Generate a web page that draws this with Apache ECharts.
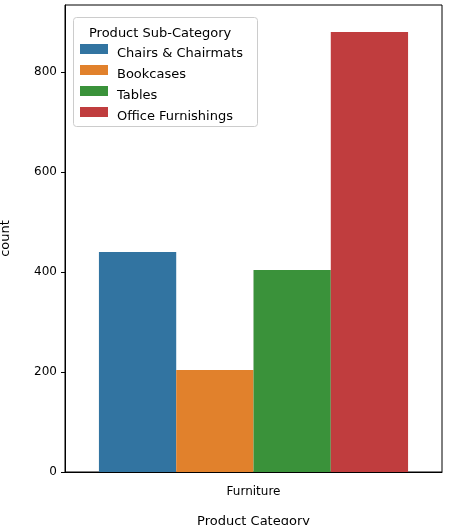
<html>
<head>
<script src="https://cdn.jsdelivr.net/npm/echarts@6/dist/echarts.min.js"></script>
<style>
  html, body { margin: 0; padding: 0; background: #fff; }
  #main { width: 463px; height: 525px; }
</style>
</head>
<body>
<div id="main"></div>
<script>
var categories = ['Furniture'];
var subCategories = ['Chairs & Chairmats', 'Bookcases', 'Tables', 'Office Furnishings'];
var counts = [440, 204, 404, 880];
var colors = ['#3274a1', '#e1812c', '#3a923a', '#c03d3e'];
var yTicks = [0, 200, 400, 600, 800];

var chart = echarts.init(document.getElementById('main'));
var font = 'DejaVu Sans';

var series = subCategories.map(function (name, i) {
    return {
        name: name,
        type: 'bar',
        data: [counts[i]],
        barGap: '0%',
        barCategoryGap: '18%',
        itemStyle: { color: colors[i] }
    };
});

// legend drawn by hand so spacing matches
var graphics = [
    { type: 'rect', left: 73, top: 17, z: 10,
      shape: { width: 184, height: 109, r: 3 },
      style: { fill: 'rgba(255,255,255,0.8)', stroke: '#ccc', lineWidth: 1 } },
    { type: 'text', left: 89, top: 21, z: 11,
      style: { text: 'Product Sub-Category', fill: '#000', fontSize: 13, fontFamily: font } }
];
subCategories.forEach(function (name, i) {
    graphics.push({ type: 'rect', left: 80, top: 44 + i * 21, z: 11,
        shape: { width: 28, height: 10 }, style: { fill: colors[i] } });
    graphics.push({ type: 'text', left: 117, top: 41 + i * 21, z: 11,
        style: { text: name, fill: '#000', fontSize: 13, fontFamily: font } });
});

chart.setOption({
    animation: false,
    textStyle: { fontFamily: font },
    grid: { left: 65, right: 21, top: 5, bottom: 53, outerBoundsMode: 'none',
            show: true, borderColor: '#000', borderWidth: 1 },
    xAxis: {
        type: 'category',
        data: categories,
        name: 'Product Category',
        nameLocation: 'middle',
        nameGap: 30,
        nameTextStyle: { color: '#000', fontSize: 13, fontFamily: font },
        axisLine: { lineStyle: { color: '#000' } },
        axisTick: { alignWithLabel: true, lineStyle: { color: '#000' }, length: 4 },
        axisLabel: { color: '#000', fontSize: 12, fontFamily: font, margin: 8 }
    },
    yAxis: {
        type: 'value',
        min: 0,
        max: 934,
        interval: 200,
        name: 'count',
        nameLocation: 'middle',
        nameGap: 46,
        nameTextStyle: { color: '#000', fontSize: 13, fontFamily: font },
        axisLine: { show: true, lineStyle: { color: '#000' } },
        axisTick: { show: true, lineStyle: { color: '#000' }, length: 4 },
        splitLine: { show: false },
        axisLabel: {
            color: '#000', fontSize: 12, fontFamily: font, showMaxLabel: false,
            formatter: function (v) { return yTicks.indexOf(v) >= 0 ? v : ''; }
        }
    },
    graphic: graphics,
    series: series
});
</script>
</body>
</html>
